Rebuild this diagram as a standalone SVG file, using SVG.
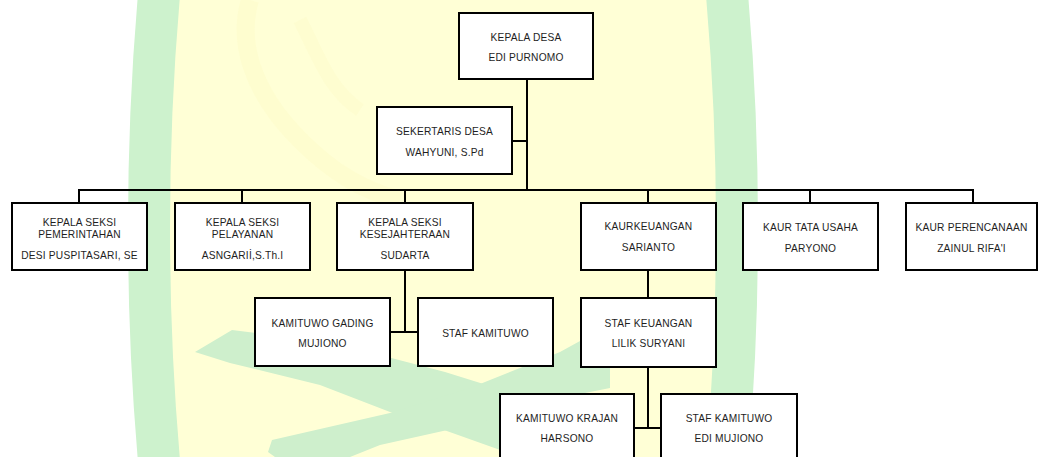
<svg xmlns="http://www.w3.org/2000/svg" width="1039" height="457" viewBox="0 0 1039 457">
<style>
.box{fill:#ffffff;stroke:#000000;stroke-width:2}
.ln{fill:none;stroke:#000000;stroke-width:2}
text{font-family:"Liberation Sans",Arial,sans-serif;font-size:10.2px;fill:#1e1e1e;text-anchor:middle;letter-spacing:0.2px}
.wm{fill:#ceefcc}
</style>
<rect x="0" y="0" width="1039" height="457" fill="#ffffff"/>
<g id="watermark">
<ellipse cx="443" cy="228" rx="294" ry="900" fill="#ffffd6" stroke="#cdf2cd" stroke-width="42"/>
<path d="M250,0 C238,40 250,90 300,140 C330,170 360,190 400,200" fill="none" stroke="#fdfac4" stroke-width="18" opacity="0.35"/>
<path d="M300,20 C320,60 330,90 360,110" fill="none" stroke="#fdfac4" stroke-width="14" opacity="0.3"/>
<polygon class="wm" points="195,352 232,330 330,342 445,372 560,408 625,440 615,457 520,457 430,425 390,412 320,385 230,363"/>
<polygon class="wm" points="268,452 272,440 390,413 470,388 560,352 600,330 610,330 610,388 560,398 470,425 380,445 350,457 275,457"/>
</g>
<g id="connectors">
<path class="ln" d="M527,79 V190"/>
<path class="ln" d="M512,141 H527"/>
<path class="ln" d="M79,203 V190 H973 V203"/>
<path class="ln" d="M242,190 V203"/>
<path class="ln" d="M405,190 V203"/>
<path class="ln" d="M648,190 V203"/>
<path class="ln" d="M810,190 V203"/>
<path class="ln" d="M405,270 V332"/>
<path class="ln" d="M390,332 H418"/>
<path class="ln" d="M648,270 V298"/>
<path class="ln" d="M648,367 V428"/>
<path class="ln" d="M634,428 H661"/>
</g>
<g id="kepala-desa">
<rect class="box" x="459" y="13" width="134" height="66"/>
<text x="526" y="41">KEPALA  DESA</text>
<text x="526" y="61">EDI PURNOMO</text>
</g>
<g id="sekertaris-desa">
<rect class="box" x="377" y="107" width="135" height="67"/>
<text x="444.5" y="135">SEKERTARIS  DESA</text>
<text x="444.5" y="156">WAHYUNI,  S.Pd</text>
</g>
<g id="kasi-pemerintahan">
<rect class="box" x="12" y="203" width="135" height="67"/>
<text x="79.5" y="226">KEPALA  SEKSI</text>
<text x="79.5" y="238">PEMERINTAHAN</text>
<text x="79.5" y="259">DESI PUSPITASARI,  SE</text>
</g>
<g id="kasi-pelayanan">
<rect class="box" x="175" y="203" width="135" height="67"/>
<text x="242.5" y="226">KEPALA  SEKSI</text>
<text x="242.5" y="238">PELAYANAN</text>
<text x="242.5" y="259">ASNGARIİ,S.Th.I</text>
</g>
<g id="kasi-kesejahteraan">
<rect class="box" x="337" y="203" width="136" height="67"/>
<text x="405" y="226">KEPALA  SEKSI</text>
<text x="405" y="238">KESEJAHTERAAN</text>
<text x="405" y="259">SUDARTA</text>
</g>
<g id="kaur-keuangan">
<rect class="box" x="581" y="203" width="135" height="67"/>
<text x="648.5" y="230">KAURKEUANGAN</text>
<text x="648.5" y="251">SARIANTO</text>
</g>
<g id="kaur-tata-usaha">
<rect class="box" x="743" y="203" width="135" height="67"/>
<text x="810.5" y="231">KAUR  TATA  USAHA</text>
<text x="810.5" y="252">PARYONO</text>
</g>
<g id="kaur-perencanaan">
<rect class="box" x="906" y="203" width="131" height="67"/>
<text x="971.5" y="231">KAUR  PERENCANAAN</text>
<text x="971.5" y="252">ZAINUL  RIFA'I</text>
</g>
<g id="kamituwo-gading">
<rect class="box" x="255" y="298" width="135" height="68"/>
<text x="322.5" y="327">KAMITUWO GADING</text>
<text x="322.5" y="347">MUJIONO</text>
</g>
<g id="staf-kamituwo-gading">
<rect class="box" x="418" y="298" width="135" height="68"/>
<text x="485.5" y="337">STAF KAMITUWO</text>
</g>
<g id="staf-keuangan">
<rect class="box" x="581" y="298" width="135" height="69"/>
<text x="648.5" y="327">STAF KEUANGAN</text>
<text x="648.5" y="347">LILIK SURYANI</text>
</g>
<g id="kamituwo-krajan">
<rect class="box" x="500" y="394" width="134" height="70"/>
<text x="567" y="422">KAMITUWO KRAJAN</text>
<text x="567" y="442">HARSONO</text>
</g>
<g id="staf-kamituwo-krajan">
<rect class="box" x="661" y="394" width="136" height="70"/>
<text x="729" y="422">STAF KAMITUWO</text>
<text x="729" y="442">EDI MUJIONO</text>
</g>
</svg>
